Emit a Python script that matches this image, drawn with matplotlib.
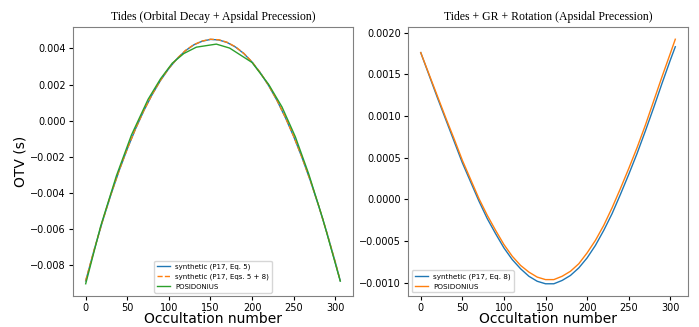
import numpy as np
import matplotlib.pyplot as plt

# left panel: tides (orbital decay + apsidal precession)
occ = [0, 10, 20, 30, 40, 50, 60, 70, 80, 90, 100, 110, 120, 130, 140, 150,
       160, 170, 180, 190, 200, 210, 220, 230, 240, 250, 260, 270, 280, 290, 300, 306]
syn_eq5 = [-0.00889, -0.00720, -0.00562, -0.00415, -0.00280, -0.00157, -0.00045, 0.00056,
           0.00145, 0.00223, 0.00289, 0.00344, 0.00388, 0.00420, 0.00440, 0.00450,
           0.00447, 0.00433, 0.00408, 0.00372, 0.00324, 0.00264, 0.00193, 0.00111,
           0.00017, -0.00088, -0.00205, -0.00333, -0.00473, -0.00624, -0.00786, -0.00889]
syn_eq58 = [-0.00888, -0.00719, -0.00561, -0.00414, -0.00279, -0.00156, -0.00044, 0.00057,
            0.00146, 0.00224, 0.00290, 0.00345, 0.00389, 0.00421, 0.00441, 0.00451,
            0.00448, 0.00434, 0.00409, 0.00373, 0.00325, 0.00265, 0.00194, 0.00112,
            0.00018, -0.00087, -0.00204, -0.00332, -0.00472, -0.00623, -0.00785, -0.00888]
occ_pos = [0, 18, 37, 55, 75, 90, 104, 118, 133, 157, 173, 200, 220, 236, 252, 268, 285, 306]
pos_tides = [-0.00905, -0.00585, -0.00305, -0.00080, 0.00118, 0.00232, 0.00318, 0.00372,
             0.00407, 0.00424, 0.00402, 0.00322, 0.00200, 0.00075, -0.00090, -0.00295,
             -0.00545, -0.00890]

# right panel: tides + GR + rotation (apsidal precession)
syn_eq8 = [0.00176, 0.00149, 0.00122, 0.00096, 0.00070, 0.00044, 0.00021, -0.00002,
           -0.00023, -0.00041, -0.00058, -0.00072, -0.00083, -0.00092, -0.00098, -0.00101,
           -0.00101, -0.00097, -0.00091, -0.00082, -0.00070, -0.00055, -0.00037, -0.00017,
           0.00006, 0.00030, 0.00055, 0.00082, 0.00110, 0.00139, 0.00167, 0.00183]
pos_all = [0.00176, 0.00150, 0.00124, 0.00098, 0.00073, 0.00047, 0.00024, 0.00001,
           -0.00019, -0.00037, -0.00054, -0.00068, -0.00079, -0.00087, -0.00093, -0.00096,
           -0.00096, -0.00092, -0.00086, -0.00077, -0.00064, -0.00049, -0.00031, -0.00010,
           0.00013, 0.00037, 0.00062, 0.00089, 0.00118, 0.00147, 0.00175, 0.00192]

fig = plt.figure(figsize=(6.99, 3.27), dpi=100)
ax1 = fig.add_axes([0.1044, 0.0948, 0.4006, 0.8226])
ax2 = fig.add_axes([0.5837, 0.0948, 0.4006, 0.8226])

ax1.plot(occ, syn_eq5, color='C0', lw=1.0, label='synthetic (P17, Eq. 5)')
ax1.plot(occ, syn_eq58, color='C1', lw=1.0, ls='--', label='synthetic (P17, Eqs. 5 + 8)')
ax1.plot(occ_pos, pos_tides, color='C2', lw=1.0, label='POSIDONIUS')
ax1.set_title('Tides (Orbital Decay + Apsidal Precession)', family='Liberation Serif',
              fontsize=8.5, pad=5)
ax1.set_ylabel('OTV (s)', fontsize=10, labelpad=2)
ax1.set_xlabel('Occultation number', fontsize=10, labelpad=-1)
ax1.legend(loc='lower center', fontsize=5, handlelength=1.8)

ax2.plot(occ, syn_eq8, color='C0', lw=1.0, label='synthetic (P17, Eq. 8)')
ax2.plot(occ, pos_all, color='C1', lw=1.0, label='POSIDONIUS')
ax2.set_title('Tides + GR + Rotation (Apsidal Precession)', family='Liberation Serif',
              fontsize=8.5, pad=5)
ax2.set_xlabel('Occultation number', fontsize=10, labelpad=-1)
ax2.legend(loc='lower left', fontsize=5.2, handlelength=1.8)

for ax in (ax1, ax2):
    ax.tick_params(labelsize=7, pad=2, length=3)
    for s in ax.spines.values():
        s.set_color('#808080')

fig.savefig('out.png', dpi=100)
